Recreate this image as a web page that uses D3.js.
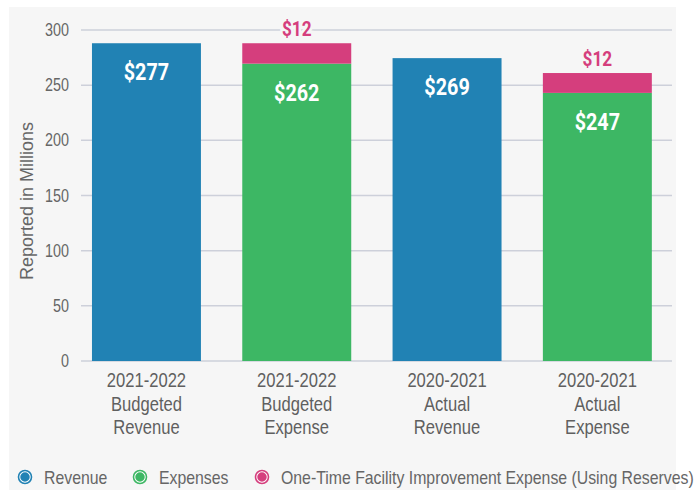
<!DOCTYPE html>
<html><head><meta charset="utf-8">
<script src="https://cdn.jsdelivr.net/npm/d3@7"></script>
<style>body{margin:0;background:#fff}svg{display:block}</style>
</head><body>
<svg id="chart" width="695" height="490"></svg>
<script>
// ---- data ----
const categories = [
  ["2021-2022","Budgeted","Revenue"],
  ["2021-2022","Budgeted","Expense"],
  ["2020-2021","Actual","Revenue"],
  ["2020-2021","Actual","Expense"]
];
const revenue  = [288, 0, 274.5, 0];
const expenses = [0, 269.5, 0, 243];
const facility = [0, 18.5, 0, 18];
const mainLabels = ["$277", "$262", "$269", "$247"];
const facilityLabels = ["", "$12", "", "$12"];
const yTicks = [0, 50, 100, 150, 200, 250, 300];
const seriesNames = ["Revenue", "Expenses", "One-Time Facility Improvement Expense (Using Reserves)"];
const colors = ["#2182b4", "#3db764", "#d53e7d"];

const svg = d3.select("#chart");
const FONT = "'Liberation Sans', Arial, sans-serif";
const BG = "#f6f6f6";

svg.append("rect").attr("x", 9).attr("y", 7).attr("width", 667).attr("height", 483).attr("fill", BG);

const x = d3.scaleBand().domain(d3.range(categories.length)).range([71.3, 672.5])
  .paddingInner(0.275).paddingOuter(0.1375);
const y = d3.scaleLinear().domain([0, 300]).range([361, 30]);

function stext(parent, px, py, str, size, sx, anchor, fill, weight) {
  return parent.append("text")
    .attr("transform", `translate(${px},${py}) scale(${sx},1)`)
    .attr("text-anchor", anchor)
    .attr("font-family", FONT)
    .attr("font-size", size)
    .attr("font-weight", weight || "normal")
    .attr("fill", fill)
    .text(str);
}

// gridlines
svg.append("g").selectAll("line").data(yTicks).join("line")
  .attr("x1", 81).attr("x2", 672)
  .attr("y1", d => y(d)).attr("y2", d => y(d))
  .attr("stroke", "#cdd0da").attr("stroke-width", 1.5);

// y tick labels
const yl = svg.append("g");
yTicks.forEach(t => stext(yl, 69, y(t) + 6, String(t), 17.5, 0.82, "end", "#666"));

// y title
svg.append("text")
  .attr("transform", `translate(33,201) rotate(-90)`)
  .attr("text-anchor", "middle")
  .attr("font-family", FONT).attr("font-size", 18).attr("fill", "#666")
  .text("Reported in Millions");

// stacked bars
const rows = categories.map((c, i) => ({i, r: revenue[i], e: expenses[i], f: facility[i]}));
const stack = d3.stack().keys(["r", "e", "f"])(rows);
const bars = svg.append("g");
stack.forEach((layer, li) => {
  bars.selectAll(null).data(layer.filter(d => d[1] - d[0] > 0)).join("rect")
    .attr("x", d => x(d.data.i))
    .attr("width", x.bandwidth())
    .attr("y", d => y(d[1]))
    .attr("height", d => y(d[0]) - y(d[1]))
    .attr("fill", colors[li]);
});

// value labels
const lab = svg.append("g");
rows.forEach((d, i) => {
  const cx = x(i) + x.bandwidth() / 2;
  const top = d.r + d.e;
  stext(lab, cx, y(top) + 37, mainLabels[i], 23, 0.86, "middle", "#fff", "bold")
    .attr("font-family", "Roboto, 'Liberation Sans', sans-serif");
  if (facilityLabels[i]) {
    stext(lab, cx, y(top + d.f) - 7, facilityLabels[i], 20, 0.86, "middle", colors[2], "bold")
      .attr("font-family", "Roboto, 'Liberation Sans', sans-serif")
      .attr("stroke", BG).attr("stroke-width", 6).attr("paint-order", "stroke");
  }
});

// x labels
const xl = svg.append("g");
categories.forEach((lines, i) => {
  const cx = x(i) + x.bandwidth() / 2;
  lines.forEach((ln, k) => stext(xl, cx, 387 + k * 23.5, ln, 20, 0.83, "middle", "#5f5f5f"));
});

// legend
const legX = [25, 140, 262];
const lg = svg.append("g");
seriesNames.forEach((n, i) => {
  lg.append("circle").attr("cx", legX[i]).attr("cy", 477).attr("r", 5.5)
    .attr("fill", colors[i]).attr("stroke", "#fff").attr("stroke-width", 1.5);
  lg.append("circle").attr("cx", legX[i]).attr("cy", 477).attr("r", 6.5)
    .attr("fill", "none").attr("stroke", colors[i]).attr("stroke-width", 1.6);
  stext(lg, legX[i] + 19, 483.5, n, 18, 0.88, "start", "#666");
});
</script>
</body></html>
